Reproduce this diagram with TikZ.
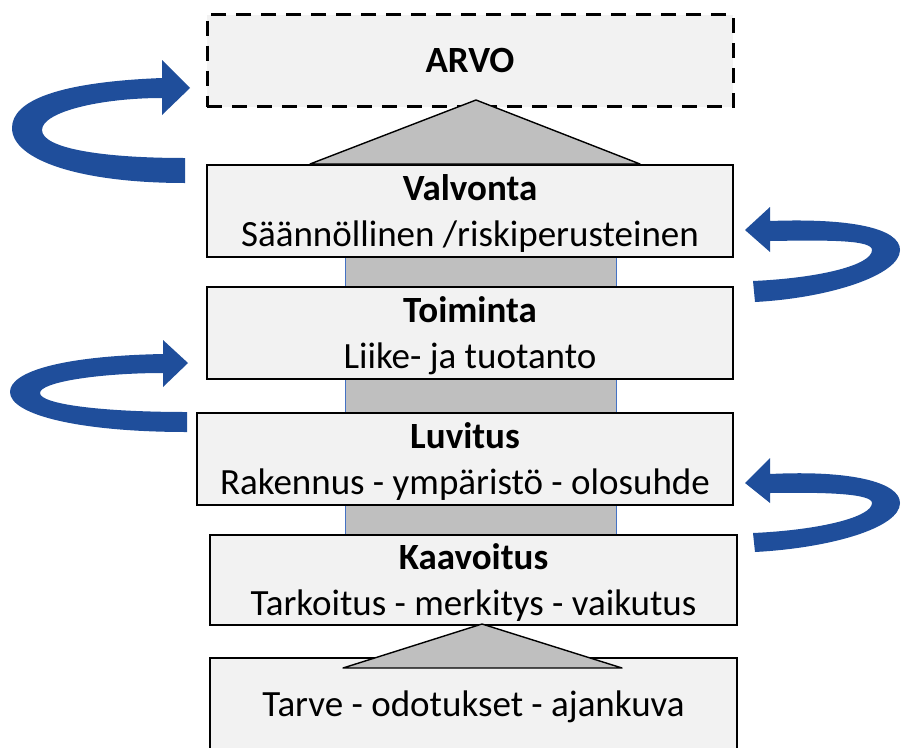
\documentclass[tikz,border=0pt]{standalone}
\usepackage{fontspec}
\setmainfont{Carlito}
\usetikzlibrary{calc,backgrounds}
\definecolor{boxfill}{HTML}{F2F2F2}
\definecolor{rampgray}{HTML}{BFBFBF}
\definecolor{loopblue}{HTML}{1F4E9B}
\definecolor{edgeblue}{HTML}{4472C4}

\begin{document}
\begin{tikzpicture}[x=1pt,y=-1pt,
  level/.style={draw=black, line width=2pt, fill=boxfill, minimum width=526pt,
    minimum height=92pt, inner sep=0pt, align=center, text depth=0pt,
    font=\fontsize{37}{46}\selectfont},
  goal/.style={level, line width=3pt, dash pattern=on 15pt off 10pt},
  ramp/.style={fill=rampgray, draw=black, line width=1.4pt, line join=round},
  turn/.style={fill=loopblue}]

  \clip (0,0) rectangle (901,747);

  % Levels
  \node[goal] (arvo) at (470,60.5) {\textbf{ARVO}};
  \node[level] (valvonta) at (470,211) {\textbf{Valvonta}\\Säännöllinen /riskiperusteinen};
  \node[level] (toiminta) at (470,333) {\textbf{Toiminta}\\Liike- ja tuotanto};
  \node[level, minimum width=536pt] (luvitus) at (465,458.5) {\textbf{Luvitus}\\Rakennus - ympäristö - olosuhde};
  \node[level, minimum width=527pt, minimum height=90pt] (kaavoitus) at (473.5,580) {\textbf{Kaavoitus}\\Tarkoitus - merkitys - vaikutus};
  \node[level, minimum width=527pt] (tarve) at (473.5,704) {Tarve - odotukset - ajankuva};

  % Column behind the levels
  \begin{scope}[on background layer]
    \fill[rampgray] (345,0 |- valvonta.south) rectangle (616,0 |- kaavoitus.north);
    \draw[edgeblue, line width=0.8pt] (345,0 |- valvonta.south) -- (345,0 |- kaavoitus.north);
    \draw[edgeblue, line width=0.8pt] (616,0 |- valvonta.south) -- (616,0 |- kaavoitus.north);
  \end{scope}

  % Triangles
  \draw[ramp] (310,0 |- valvonta.north) -- ($(arvo.south)+(6,-8)$) -- (640,0 |- valvonta.north) -- cycle;
  \draw[ramp] ($(tarve.north)+(-130.5,11)$) -- ($(kaavoitus.south)+(8.5,-2)$) -- ($(tarve.north)+(148.5,11)$) -- cycle;

  % Loop arrows, left side
  \fill[turn] (190,88) -- (162,60) -- (162,78) .. controls (60,82) and (12,100) .. (12,128)
    .. controls (12,160) and (80,183) .. (185,183) -- (185,158)
    .. controls (100,158) and (42,148) .. (42,130) .. controls (42,112) and (100,98) .. (162,98)
    -- (162,115) -- cycle;
  \fill[turn] (188,363) -- (163,340) -- (163,354) .. controls (60,356) and (10,372) .. (10,392)
    .. controls (10,415) and (80,432) .. (187,432) -- (187,412)
    .. controls (100,412) and (40,404) .. (40,393) .. controls (40,382) and (100,373) .. (163,373)
    -- (163,387) -- cycle;

  % Loop arrows, right side
  \fill[turn] (745,230) -- (770,207) -- (770,221) .. controls (850,218) and (900,228) .. (900,250)
    .. controls (900,275) and (830,298) .. (755,302) -- (753,281)
    .. controls (820,278) and (872,265) .. (872,250) .. controls (872,240) and (830,240) .. (770,241)
    -- (770,252) -- cycle;
  \fill[turn] (745,483) -- (770,458) -- (770,474) .. controls (850,470) and (900,482) .. (900,503)
    .. controls (900,528) and (830,548) .. (755,552) -- (753,533)
    .. controls (820,530) and (872,517) .. (872,503) .. controls (872,494) and (830,492) .. (770,493)
    -- (770,503) -- cycle;
\end{tikzpicture}
\end{document}
